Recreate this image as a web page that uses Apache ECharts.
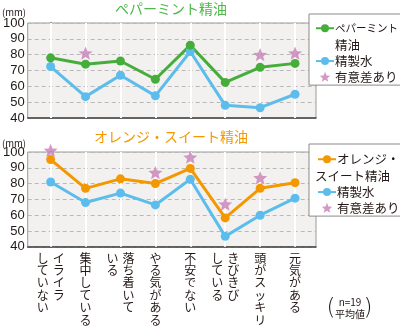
<!DOCTYPE html>
<html><head><meta charset="utf-8">
<script src="https://cdn.jsdelivr.net/npm/echarts@6/dist/echarts.min.js"></script>
<style>html,body{margin:0;padding:0;background:#fff}#c{width:400px;height:326px}</style>
</head><body><div id="c"></div>
<script>
// ---- data ----
const categories = ['イライラしていない', '集中している', '落ち着いている', 'やる気がある', '不安でない', 'きびきびしている', '頭がスッキリ', '元気がある'];
// vertical label columns, read right-to-left (first = right column)
const xLabelColumns = [['イライラ', 'していない'], ['集中している'], ['落ち着いて', 'いる'], ['やる気がある'], ['不安でない'], ['きびきび', 'している'], ['頭がスッキリ'], ['元気がある']];
const pepperOil = [78, 74, 76, 64.5, 86, 62.5, 72, 74.5];
const pepperWater = [72.5, 53.5, 67, 54, 82, 48, 46.5, 55];
const pepperSig = [null, 81, null, null, null, null, 80, 81];
const orangeOil = [95.2, 77, 83, 80, 89.6, 58.3, 77, 80.6];
const orangeWater = [81, 68, 74, 66.5, 82.7, 46.6, 60, 70.8];
const orangeSig = [101, null, null, 87, 96.7, 67, 83.7, null];
const yMin = 40, yMax = 100, yStep = 10;
const titles = ['ペパーミント精油', 'オレンジ・スイート精油'];
const waterName = '精製水';
const sigName = '有意差あり';
const unitLabel = '(mm)';
const noteLines = ['n=19', '平均値'];

// ---- style ----
const GREEN = '#45ae3b', BLUE = '#5cbdec', ORANGE = '#f39800', STAR = '#c77fb6';
const TEXT = '#231815';
const FONT = '"Noto Sans CJK JP", sans-serif';
const starPath = 'path://M0,-10 L2.6,-3.6 L9.51,-3.09 L4.2,1.4 L5.88,8.09 L0,4.4 L-5.88,8.09 L-4.2,1.4 L-9.51,-3.09 L-2.6,-3.6 Z';

const pairs = arr => arr.map((v, i) => [i, v]);
const sigPairs = arr => arr.map((v, i) => v == null ? null : [i, v]).filter(Boolean);
const idx = categories.map((_, i) => i);

function xLabel(v) {
  const cols = xLabelColumns[v];
  if (!cols) return '';
  const lines = [];
  if (cols.length === 1) {
    for (const ch of cols[0]) lines.push('{C|' + ch + '}');
  } else {
    const r = Array.from(cols[0]), l = Array.from(cols[1]);
    const n = Math.max(r.length, l.length);
    for (let i = 0; i < n; i++) lines.push('{L|' + (l[i] || ' ') + '}{R|' + (r[i] || ' ') + '}');
  }
  return lines.join('\n');
}

const grids = [
  { left: 27, right: 84, top: 23, height: 95 },
  { left: 27, right: 84, top: 152, height: 96 }
].map(g => Object.assign(g, { show: true, backgroundColor: '#f3f1ef', borderColor: '#9a9a9a', borderWidth: 1 }));

function xAxisFor(gi, showLabels) {
  return {
    type: 'value', gridIndex: gi, min: -0.657, max: 7.6,
    axisLine: { show: true, onZero: false, lineStyle: { color: '#444', width: 1.5 } },
    axisTick: { show: false },
    splitLine: { show: false },
    axisLabel: showLabels ? {
      show: true, customValues: idx, formatter: xLabel, margin: 5,
      fontFamily: FONT, color: TEXT,
      rich: {
        C: { fontSize: 12, lineHeight: 12.4, width: 16, align: 'center', color: TEXT, fontFamily: FONT },
        L: { fontSize: 12, lineHeight: 12.4, width: 16, align: 'center', color: TEXT, fontFamily: FONT },
        R: { fontSize: 12, lineHeight: 12.4, width: 16, align: 'center', color: TEXT, fontFamily: FONT }
      }
    } : { show: false }
  };
}
function yAxisFor(gi) {
  return {
    type: 'value', gridIndex: gi, min: yMin, max: yMax, interval: yStep,
    axisLine: { show: true, lineStyle: { color: '#444', width: 1.5 } },
    axisTick: { show: false },
    axisLabel: { fontSize: 13, color: TEXT, margin: 3, fontFamily: '"Liberation Sans Narrow", "Liberation Sans", sans-serif' },
    splitLine: { show: true, lineStyle: { color: '#b8b8b8', type: [4, 3], width: 1 } }
  };
}

function lineSeries(name, data, color, gi, withGrid) {
  const s = {
    name, type: 'line', xAxisIndex: gi, yAxisIndex: gi, data: pairs(data),
    symbol: 'circle', symbolSize: 9, z: 3,
    lineStyle: { color, width: 3 }, itemStyle: { color },
    emphasis: { disabled: true }, animation: false
  };
  if (withGrid) {
    s.markLine = {
      silent: true, symbol: ['none', 'none'], z: 1, animation: false,
      label: { show: false },
      lineStyle: { color: '#ffffff', width: 2, type: 'solid' },
      data: idx.map(i => ({ xAxis: i }))
    };
  }
  return s;
}
function starSeries(data, gi) {
  return {
    name: sigName, type: 'scatter', xAxisIndex: gi, yAxisIndex: gi, data: sigPairs(data),
    symbol: starPath, symbolSize: 14, symbolKeepAspect: true, clip: false, z: 4,
    itemStyle: { color: STAR }, emphasis: { disabled: true }, animation: false
  };
}

const legendRich = {
  n: { fontSize: 12.5, lineHeight: 17, color: TEXT, fontFamily: FONT },
  k: { fontSize: 10.5, lineHeight: 17, color: TEXT, fontFamily: FONT },
  s: { width: 22, lineHeight: 17 }
};
function legendFormatter(name) {
  if (name === titles[0]) return '{k|ペパーミント}\n{n|精油}';
  if (name === titles[1]) return '{s| }{n|オレンジ・}\n{n|スイート精油}';
  return '{n|' + name + '}';
}
function legendFor(top, first, firstPad) {
  return {
    orient: 'vertical', left: 309, top: top, itemWidth: 18, itemHeight: 10, itemGap: 3.3,
    padding: [9, 4, 2, 6], backgroundColor: '#fff', borderColor: '#8a8a8a', borderWidth: 1, borderRadius: 0,
    selectedMode: false, formatter: legendFormatter,
    textStyle: { rich: legendRich, padding: [0, 0, 0, -4] },
    data: [
      { name: first, textStyle: { rich: legendRich, padding: firstPad } },
      { name: waterName, textStyle: { rich: legendRich, padding: [0, 0, 0, -4] } },
      { name: sigName, textStyle: { rich: legendRich, padding: [0, 0, 0, -4] } }
    ]
  };
}

const option = {
  animation: false,
  textStyle: { fontFamily: FONT },
  grid: grids,
  xAxis: [xAxisFor(0, false), xAxisFor(1, true)],
  yAxis: [yAxisFor(0), yAxisFor(1)],
  legend: [legendFor(14, titles[0], [17, 0, 0, -4]), legendFor(144, titles[1], [17, 0, 0, -26])],
  series: [
    lineSeries(waterName, pepperWater, BLUE, 0, true),
    lineSeries(titles[0], pepperOil, GREEN, 0, false),
    starSeries(pepperSig, 0),
    lineSeries(waterName, orangeWater, BLUE, 1, true),
    lineSeries(titles[1], orangeOil, ORANGE, 1, false),
    starSeries(orangeSig, 1)
  ],
  graphic: [
    { type: 'text', x: 171, y: 9, style: { text: titles[0], fill: '#4cb848', font: '14px ' + FONT, align: 'center', verticalAlign: 'middle' } },
    { type: 'text', x: 171, y: 137, style: { text: titles[1], fill: ORANGE, font: '14px ' + FONT, align: 'center', verticalAlign: 'middle' } },
    { type: 'text', x: 2, y: 12, style: { text: unitLabel, fill: TEXT, font: '9.5px ' + FONT, align: 'left', verticalAlign: 'middle' } },
    { type: 'text', x: 2, y: 143.5, style: { text: unitLabel, fill: TEXT, font: '9.5px ' + FONT, align: 'left', verticalAlign: 'middle' } },
    { type: 'text', x: 350, y: 302.5, style: { text: noteLines[0], fill: TEXT, font: '10px ' + FONT, align: 'center', verticalAlign: 'middle' } },
    { type: 'text', x: 350, y: 314.5, style: { text: noteLines[1], fill: TEXT, font: '10px ' + FONT, align: 'center', verticalAlign: 'middle' } },
    { type: 'text', x: 331, y: 309, style: { text: '(', fill: TEXT, font: '200 23px "DejaVu Sans"', align: 'center', verticalAlign: 'middle' } },
    { type: 'text', x: 368, y: 309, style: { text: ')', fill: TEXT, font: '200 23px "DejaVu Sans"', align: 'center', verticalAlign: 'middle' } }
  ]
};
const chart = echarts.init(document.getElementById('c'), null, { renderer: 'canvas' });
chart.setOption(option);
</script></body></html>
